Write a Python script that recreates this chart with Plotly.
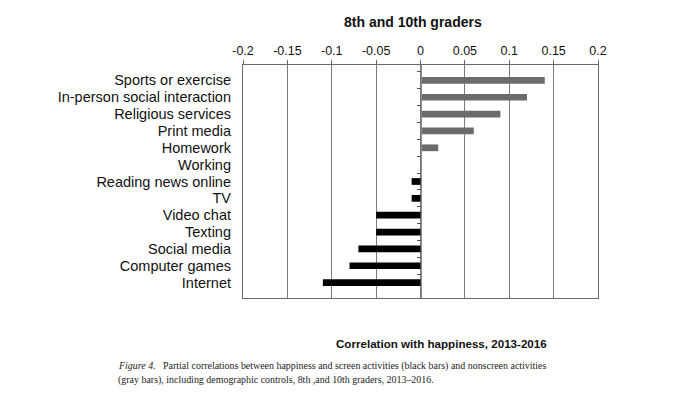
import plotly.graph_objects as go

activities = ["Sports or exercise", "In-person social interaction", "Religious services",
              "Print media", "Homework", "Working", "Reading news online", "TV",
              "Video chat", "Texting", "Social media", "Computer games", "Internet"]
correlations = [0.14, 0.12, 0.09, 0.06, 0.02, 0.0, -0.01, -0.01, -0.05, -0.05, -0.07, -0.08, -0.11]
activity_type = ["nonscreen"] * 6 + ["screen"] * 7
tick_values = [-0.2, -0.15, -0.1, -0.05, 0, 0.05, 0.1, 0.15, 0.2]
tick_labels = ["-0.2", "-0.15", "-0.1", "-0.05", "0", "0.05", "0.1", "0.15", "0.2"]

type_colors = {"nonscreen": "#6b6b6b", "screen": "#000000"}

# page body has an 8px margin; positions below are page pixels
OFF = 8
W, H = 680, 409
L, R, T, B = 243 - OFF, 82 + OFF, 65 - OFF, 111 + OFF
PW, PH = W - L - R, H - T - B

def px(xp):
    return (xp - OFF - L) / PW

def py(yp):
    return (H - B - (yp - OFF)) / PH

fig = go.Figure()
fig.add_trace(go.Bar(
    x=correlations, y=activities, orientation="h",
    marker=dict(color=[type_colors[t] for t in activity_type], line=dict(width=0)),
    width=0.4, showlegend=False, hoverinfo="x+y",
))

line_col = "#6a6a6a"
font_family = "Liberation Sans, Arial, sans-serif"

fig.update_layout(
    width=W, height=H,
    margin=dict(l=L, r=R, t=T, b=B, autoexpand=False),
    paper_bgcolor="white", plot_bgcolor="white",
    font=dict(family=font_family, color="#111"),
    xaxis=dict(
        side="top", range=[-0.2, 0.2], tickmode="array", tickvals=tick_values, ticktext=tick_labels,
        showgrid=True, gridcolor="#7a7a7a", gridwidth=1, automargin=False,
        showline=True, linecolor=line_col, linewidth=1.2, mirror=True,
        ticks="outside", ticklen=4, tickcolor=line_col, tickfont=dict(size=12.5),
        zeroline=False, fixedrange=True,
    ),
    yaxis=dict(
        type="category", categoryorder="array", categoryarray=activities,
        tickmode="array", tickvals=activities, automargin=False,
        autorange="reversed", showgrid=False, zeroline=False,
        showline=True, linecolor=line_col, linewidth=1.2, mirror=True,
        ticks="", ticklabelstandoff=8, tickfont=dict(size=14.5, color="#111"),
    ),
    yaxis2=dict(
        matches="y", overlaying="y", anchor="free", position=0.5, side="left",
        showticklabels=False, showgrid=False, zeroline=False, automargin=False,
        showline=True, linecolor="#8a8a8a", linewidth=1,
        ticks="outside", tickson="boundaries", ticklen=4, tickcolor="#555",
    ),
)

fig.add_trace(go.Scatter(x=[0] * len(activities), y=activities, yaxis="y2",
                         mode="markers", marker=dict(opacity=0), showlegend=False,
                         hoverinfo="skip"))

fig.add_annotation(text="<b>8th and 10th graders</b>", xref="paper", yref="paper",
                   x=px(413), y=py(22), showarrow=False, xanchor="center", yanchor="middle",
                   font=dict(size=14, family=font_family, color="#111"))
fig.add_annotation(text="<b>Correlation with happiness, 2013-2016</b>", xref="paper", yref="paper",
                   x=px(441), y=py(343), showarrow=False, xanchor="center", yanchor="middle",
                   font=dict(size=11.6, family=font_family, color="#111"))
cap_font = dict(size=9.95, family="Liberation Serif, Times New Roman, serif", color="#222")
fig.add_annotation(text="<i>Figure 4.</i>   Partial correlations between happiness and screen activities (black bars) and nonscreen activities",
                   xref="paper", yref="paper", x=px(116), y=py(366), showarrow=False,
                   xanchor="left", yanchor="middle", font=cap_font)
fig.add_annotation(text="(gray bars), including demographic controls, 8th ,and 10th graders, 2013\u20132016.",
                   xref="paper", yref="paper", x=px(116), y=py(380), showarrow=False,
                   xanchor="left", yanchor="middle", font=cap_font)

fig.write_html("out.html")
